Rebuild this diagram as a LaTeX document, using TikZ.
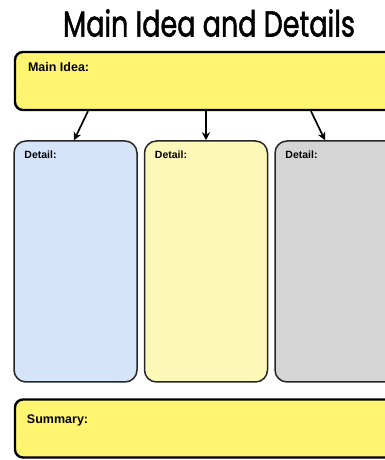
\documentclass[tikz,border=0pt]{standalone}
\usepackage{fontspec}
\setmainfont{Liberation Sans}
\newfontfamily\titlefont[FakeBold=1.6]{Poppins}
\usepackage{tikz}
\usetikzlibrary{positioning,arrows.meta}

\definecolor{ideayellow}{RGB}{255,245,112}
\definecolor{detailblue}{RGB}{214,228,250}
\definecolor{detailyellow}{RGB}{252,248,184}
\definecolor{detailgray}{RGB}{213,213,213}

\begin{document}
\begin{tikzpicture}[x=1pt,y=1pt,
    bigbox/.style={draw=black,line width=2.4pt,rounded corners=8pt,fill=ideayellow,minimum height=58pt,minimum width=385pt},
    detailbox/.style={draw=black!85,line width=1.5pt,rounded corners=12pt,minimum height=241pt,minimum width=123pt},
    boxlabel/.style={anchor=north west,inner sep=0pt,font=\bfseries\fontsize{12.5}{14}\selectfont},
    detaillabel/.style={anchor=north west,inner sep=0pt,font=\bfseries\fontsize{10.5}{12}\selectfont},
    pointer/.style={-{Stealth[length=8pt,width=8pt]},line width=1.7pt}]
  \useasboundingbox (0,0) rectangle (385,460);
  \clip (0,0) rectangle (385,460);
  \fill[white] (0,0) rectangle (385,460);

  % title
  \node (title) at (209,437) {\titlefont\fontsize{36}{40}\selectfont\scalebox{0.75}[1]{Main Idea and Details}};

  % main idea and summary
  \node[bigbox] (mainidea) at (207.5,379) {};
  \node[boxlabel] (mainlabel) at ([shift={(14pt,-11pt)}]mainidea.north west) {Main Idea:};
  \node[bigbox] (summary) at (207.5,31.5) {};
  \node[boxlabel] (sumlabel) at ([shift={(13pt,-16pt)}]summary.north west) {Summary:};

  % detail boxes
  \node[detailbox,fill=detailblue] (detailA) at (75.5,198.5) {};
  \node[detailbox,fill=detailyellow] (detailB) at (206,198.5) {};
  \node[detailbox,fill=detailgray] (detailC) at (336.5,198.5) {};
  \node[detaillabel] (labelA) at ([shift={(11pt,-10pt)}]detailA.north west) {Detail:};
  \node[detaillabel] (labelB) at ([shift={(11pt,-10pt)}]detailB.north west) {Detail:};
  \node[detaillabel] (labelC) at ([shift={(11pt,-10pt)}]detailC.north west) {Detail:};

  % arrows
  \draw[pointer] ([xshift=-119.5pt]mainidea.south) -- ([xshift=-1.5pt]detailA.north);
  \draw[pointer] ([xshift=-1.5pt]mainidea.south) -- (detailB.north);
  \draw[pointer] ([xshift=103.5pt]mainidea.south) -- ([xshift=-11.5pt]detailC.north);
\end{tikzpicture}
\end{document}
